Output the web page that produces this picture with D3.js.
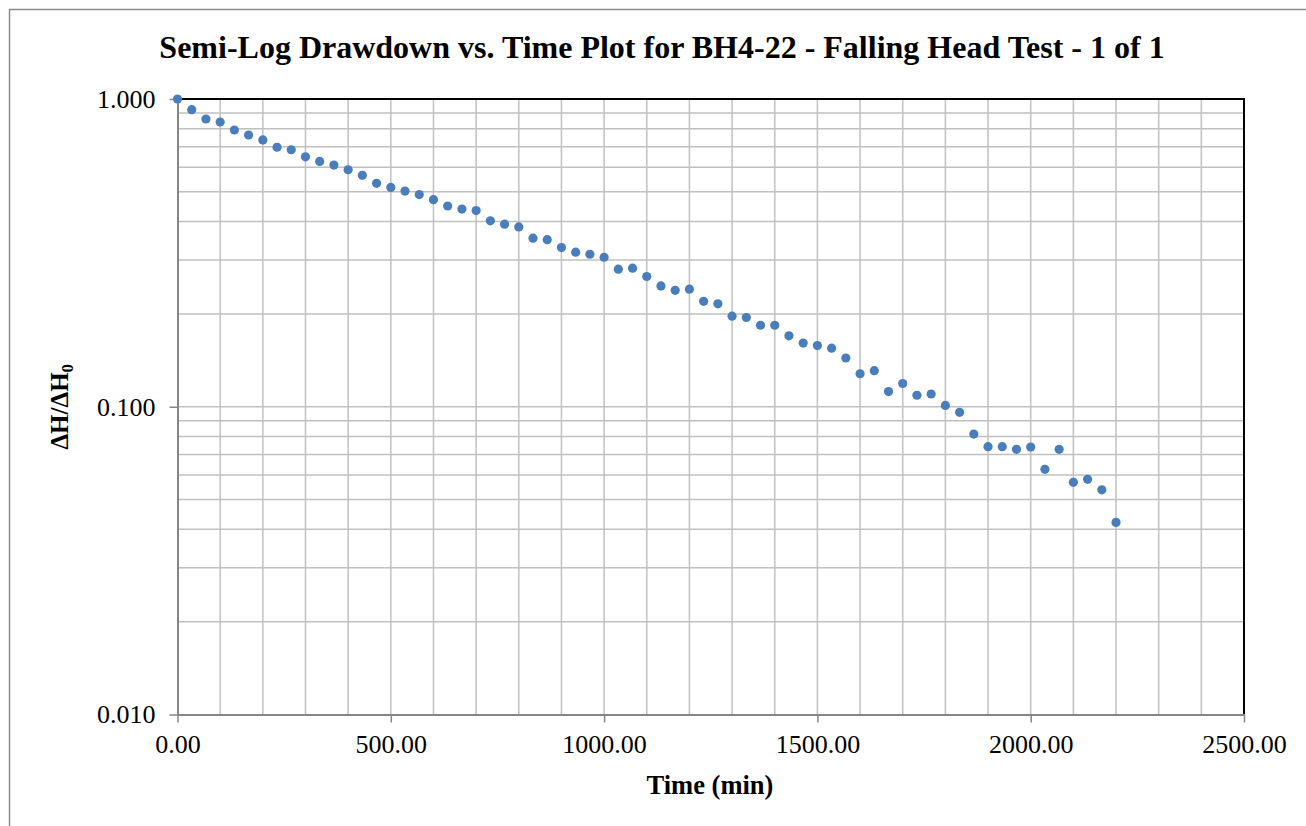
<!DOCTYPE html>
<html>
<head>
<meta charset="utf-8">
<script src="https://cdn.jsdelivr.net/npm/d3@7"></script>
<style>
  html, body { margin: 0; padding: 0; background: #ffffff; }
  svg { display: block; }
</style>
</head>
<body>
<svg id="chart" width="1306" height="826"></svg>
<script>
// Elapsed time since start of the test (min)
const timeMin = [
  0.00, 33.33, 66.67, 100.00, 133.33, 166.67, 200.00, 233.33, 266.67, 300.00,
  333.33, 366.67, 400.00, 433.33, 466.67, 500.00, 533.33, 566.67, 600.00, 633.33,
  666.67, 700.00, 733.33, 766.67, 800.00, 833.33, 866.67, 900.00, 933.33, 966.67,
  1000.00, 1033.33, 1066.67, 1100.00, 1133.33, 1166.67, 1200.00, 1233.33, 1266.67, 1300.00,
  1333.33, 1366.67, 1400.00, 1433.33, 1466.67, 1500.00, 1533.33, 1566.67, 1600.00, 1633.33,
  1666.67, 1700.00, 1733.33, 1766.67, 1800.00, 1833.33, 1866.67, 1900.00, 1933.33, 1966.67,
  2000.00, 2033.33, 2066.67, 2100.00, 2133.33, 2166.67, 2200.00
];

// Normalised head ratio ΔH/ΔH0
const headRatio = [
  1.000, 0.923, 0.861, 0.842, 0.793, 0.764, 0.736, 0.697, 0.684, 0.649,
  0.627, 0.610, 0.589, 0.565, 0.532, 0.516, 0.502, 0.489, 0.471, 0.449,
  0.439, 0.434, 0.402, 0.392, 0.384, 0.353, 0.349, 0.329, 0.318, 0.313,
  0.306, 0.280, 0.282, 0.265, 0.247, 0.239, 0.241, 0.220, 0.216, 0.197,
  0.195, 0.184, 0.184, 0.170, 0.161, 0.158, 0.155, 0.144, 0.128, 0.131,
  0.112, 0.119, 0.109, 0.110, 0.101, 0.0959, 0.0815, 0.0742, 0.0742, 0.0727,
  0.0740, 0.0626, 0.0727, 0.0568, 0.0581, 0.0537, 0.0421
];

const xTicks = [0, 500, 1000, 1500, 2000, 2500];
const yTicks = [0.01, 0.1, 1];
const xGrid = [100,200,300,400,500,600,700,800,900,1000,1100,1200,1300,1400,1500,
               1600,1700,1800,1900,2000,2100,2200,2300,2400];
const yGrid = [0.02,0.03,0.04,0.05,0.06,0.07,0.08,0.09,0.1,
               0.2,0.3,0.4,0.5,0.6,0.7,0.8,0.9];

const titleText = "Semi-Log Drawdown vs. Time Plot for BH4-22 - Falling Head Test - 1 of 1";
const xTitle = "Time (min)";

const FONT = "'Liberation Serif', 'Times New Roman', 'DejaVu Serif', serif";

const svg = d3.select("#chart");
const L = 177.5, R = 1244, T = 99, B = 714.5;

const x = d3.scaleLinear().domain([0, 2500]).range([L, R]);
const y = d3.scaleLog().domain([0.01, 1]).range([B, T]);

// outer chart frame
svg.append("rect")
  .attr("x", 9.5).attr("y", 9.5).attr("width", 1320).attr("height", 840)
  .attr("fill", "#fff").attr("stroke", "#8c8c8c").attr("stroke-width", 1.5);

// gridlines
const grid = svg.append("g").attr("stroke", "#c0c0c0").attr("stroke-width", 1.5);
grid.selectAll("line.v").data(xGrid).join("line").attr("class", "v")
  .attr("x1", d => x(d)).attr("x2", d => x(d)).attr("y1", T).attr("y2", B);
grid.selectAll("line.h").data(yGrid).join("line").attr("class", "h")
  .attr("y1", d => y(d)).attr("y2", d => y(d)).attr("x1", L).attr("x2", R);

// top and right border of the plot area
svg.append("path")
  .attr("d", `M${L},${T}H${R}V${B}`)
  .attr("fill", "none").attr("stroke", "#000").attr("stroke-width", 2);

// axes
const xAxis = svg.append("g").attr("transform", `translate(0,${B})`)
  .call(d3.axisBottom(x).tickValues(xTicks).tickSize(8).tickSizeOuter(0).tickPadding(12)
    .tickFormat(d3.format(".2f")));
const yAxis = svg.append("g").attr("transform", `translate(${L},0)`)
  .call(d3.axisLeft(y).tickValues(yTicks).tickSize(8).tickSizeOuter(0).tickPadding(14)
    .tickFormat(d3.format(".3f")));

[xAxis, yAxis].forEach(g => {
  g.attr("font-family", FONT);
  g.select(".domain").attr("stroke", "#868686").attr("stroke-width", 2);
  g.selectAll(".tick line").attr("stroke", "#868686").attr("stroke-width", 1.5);
  g.selectAll(".tick text")
    .attr("font-family", FONT)
    .attr("font-size", 26).attr("fill", "#000");
});

// data points
svg.append("g").selectAll("circle")
  .data(timeMin.map((t, i) => [t, headRatio[i]]))
  .join("circle")
  .attr("cx", d => x(d[0])).attr("cy", d => y(d[1])).attr("r", 4.6)
  .attr("fill", "#4a7ebb");

// titles
svg.append("text")
  .attr("x", 662).attr("y", 58).attr("text-anchor", "middle")
  .attr("font-family", FONT)
  .attr("font-weight", "bold").attr("font-size", 32)
  .text(titleText);

svg.append("text")
  .attr("x", 710).attr("y", 794).attr("text-anchor", "middle")
  .attr("font-family", FONT)
  .attr("font-weight", "bold").attr("font-size", 26.5)
  .text(xTitle);

const yLab = svg.append("text")
  .attr("transform", `translate(68,${(T + B) / 2}) rotate(-90)`)
  .attr("text-anchor", "middle")
  .attr("font-family", FONT)
  .attr("font-weight", "bold").attr("font-size", 25);
yLab.append("tspan").text("ΔH/ΔH");
yLab.append("tspan").attr("font-size", 17).attr("dy", 5).text("0");
</script>
</body>
</html>
